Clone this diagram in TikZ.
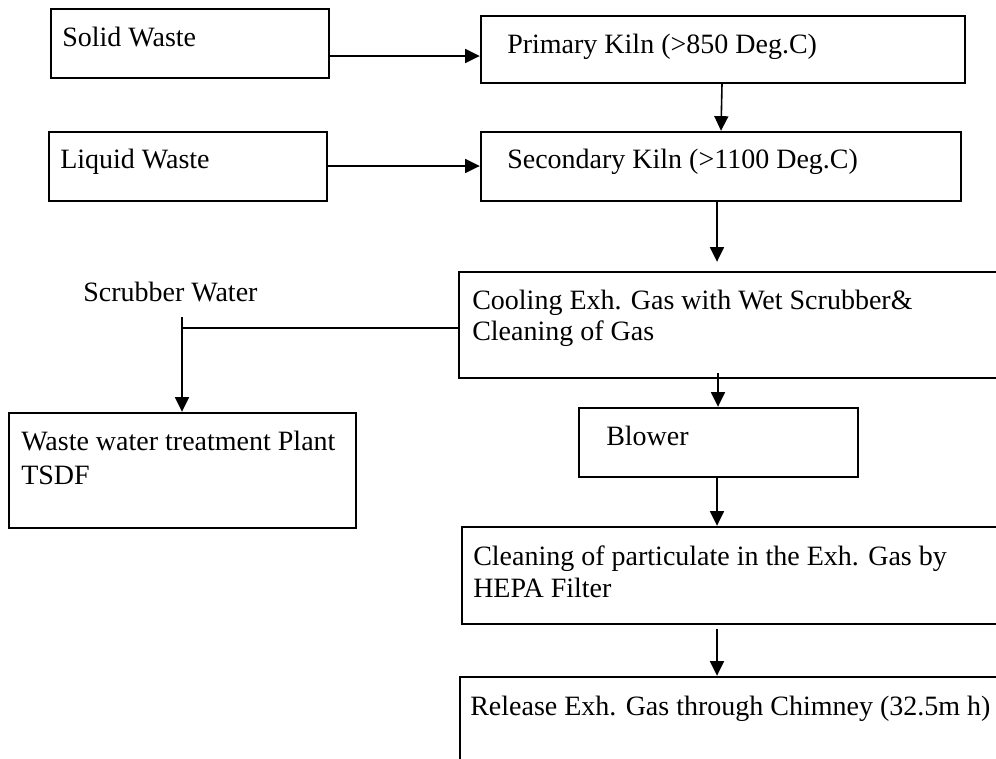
\documentclass[tikz,border=0pt]{standalone}
\usepackage{fontspec}
\setmainfont{Liberation Serif}
\usetikzlibrary{arrows.meta,fit,calc}

\begin{document}
\begin{tikzpicture}[x=0.75pt,y=-0.75pt,
  box/.style={draw, line width=1.8pt, inner sep=0pt, rectangle},
  lbl/.style={inner sep=0pt, anchor=base west, font=\fontsize{21pt}{24pt}\selectfont},
  flow/.style={line width=1.2pt},
  arr/.style={flow, -{Triangle[length=11pt,width=10.5pt]}}]

\useasboundingbox (0,0) rectangle (996,758);
\clip (0,0) rectangle (996,758);

% process boxes
\node[box, fit={(51,9) (329,78)}]     (solid) {};
\node[box, fit={(481,16) (965,83)}]   (prim)  {};
\node[box, fit={(49,132) (327,201)}]  (liq)   {};
\node[box, fit={(481,132) (961,201)}] (sec)   {};
\node[box, fit={(459,272) (1010,378)}] (cool) {};
\node[box, fit={(9,413) (356,528)}]   (waste) {};
\node[box, fit={(579,408) (858,477)}] (blow)  {};
\node[box, fit={(462,527) (1010,624)}] (clean) {};
\node[box, fit={(460,677) (1010,790)}] (rel)  {};

% box texts
\node[lbl] (solidT) at (62,46)  {Solid Waste};
\node[lbl] (primT)  at (507,53) {Primary Kiln (>850 Deg.C)};
\node[lbl] (liqT)   at (60,168) {Liquid Waste};
\node[lbl] (secT)   at (507,168) {Secondary Kiln (>1100 Deg.C)};
\node[lbl] (coolT1) at (472,309) {Cooling Exh. Gas with Wet Scrubber\&};
\node[lbl] (coolT2) at (472,340) {Cleaning of Gas};
\node[lbl] (scrT)   at (83,301) {Scrubber Water};
\node[lbl] (wasteT1) at (21,450) {Waste water treatment Plant};
\node[lbl] (wasteT2) at (21,484) {TSDF};
\node[lbl] (blowT)  at (606,445) {Blower};
\node[lbl] (cleanT1) at (473,565) {Cleaning of particulate in the Exh. Gas by};
\node[lbl] (cleanT2) at (473,597) {HEPA Filter};
\node[lbl] (relT)   at (470,715) {Release Exh. Gas through Chimney (32.5m h)};

% feed lines
\draw[arr] (solid.east |- 0,56)  -- (prim.west |- 0,56);
\draw[arr] (liq.east |- 0,166)   -- (sec.west |- 0,166);

% main gas path
\draw[arr] (prim.south -| 722,0) -- (sec.north -| 721,0);
\draw[arr] (sec.south -| 717,0)  -- ($(cool.north -| 717,0)+(0,-9)$);
\draw[arr] ($(cool.south -| 718,0)+(0,-6)$) -- (blow.north -| 718,0);
\draw[arr] (blow.south -| 717,0) -- (clean.north -| 717,0);
\draw[arr] ($(clean.south -| 717,0)+(0,4)$) -- (rel.north -| 717,0);

% scrubber water branch
\coordinate (jtop) at (182,317);
\draw[flow] (cool.west |- 0,328) -- (jtop |- 0,328);
\draw[arr] (jtop) -- (waste.north -| jtop);
\end{tikzpicture}
\end{document}
